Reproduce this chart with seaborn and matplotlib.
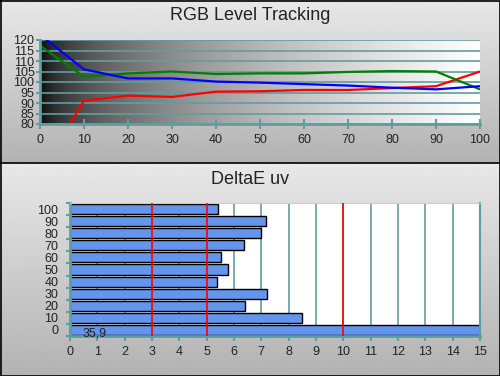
import numpy as np
import matplotlib
matplotlib.use("Agg")
import matplotlib.pyplot as plt
import seaborn as sns

# ---- data ----
levels = [0, 10, 20, 30, 40, 50, 60, 70, 80, 90, 100]
red_vals = [57, 91.1, 93.5, 92.9, 95.4, 95.6, 96.2, 96.2, 97.1, 98.0, 105.0]
green_vals = [117.3, 102.5, 104.1, 105.0, 103.8, 104.1, 104.1, 104.8, 105.2, 105.0, 96.5]
blue_vals = [122.5, 106.0, 101.7, 101.7, 100.2, 99.7, 99.0, 98.3, 97.3, 96.5, 98.0]

de_labels = ["100", "90", "80", "70", "60", "50", "40", "30", "20", "10", "0"]
de_values = [5.43, 7.16, 6.98, 6.35, 5.54, 5.77, 5.37, 7.2, 6.39, 8.48, 35.9]
ref_lines = [3, 5, 10]

W, H = 500, 376
TEAL = "#5f9ea0"
TXT = "#222222"
FS = 9

plt.rcParams['font.family'] = ['Liberation Sans', 'DejaVu Sans']

fig = plt.figure(figsize=(W / 100, H / 100), dpi=100)

def frac(x0, y0, x1, y1):
    return [x0 / W, 1 - y1 / H, (x1 - x0) / W, (y1 - y0) / H]

# background panels
bg = fig.add_axes([0, 0, 1, 1])
bg.set_xlim(0, W)
bg.set_ylim(H, 0)
bg.axis("off")
grad = np.linspace(0.91, 0.70, 256).reshape(-1, 1)
bg.imshow(grad, cmap="gray", vmin=0, vmax=1, extent=[0, W, 163, 0], aspect="auto")
bg.imshow(grad, cmap="gray", vmin=0, vmax=1, extent=[0, W, H, 163], aspect="auto")
bg.plot([0, W], [163, 163], color="black", lw=1.2)
bg.plot([0.5, W - 0.5, W - 0.5, 0.5, 0.5], [0.5, 0.5, H - 0.5, H - 0.5, 0.5], color="black", lw=1.2)

fig.text(0.5, 1 - 15 / H, "RGB Level Tracking", ha="center", va="center", fontsize=13, color=TXT)
fig.text(0.5, 1 - 179 / H, "DeltaE uv", ha="center", va="center", fontsize=13, color=TXT)

# ---- top: RGB tracking ----
ax1 = fig.add_axes(frac(40, 40, 480, 124))
xg = np.linspace(0, 1, 512).reshape(1, -1) ** 0.5
ax1.imshow(xg, cmap="gray", vmin=0, vmax=1, extent=[0, 100, 80, 120], aspect="auto", zorder=0)
sns.lineplot(x=levels, y=red_vals, color="#ff0000", lw=1.6, ax=ax1)
sns.lineplot(x=levels, y=green_vals, color="#008000", lw=1.6, ax=ax1)
sns.lineplot(x=levels, y=blue_vals, color="#0000ff", lw=1.6, ax=ax1)
ax1.set_xlim(0, 100)
ax1.set_ylim(80, 120)
ax1.set_xticks(levels)
ax1.set_yticks(range(80, 121, 5))
ax1.yaxis.grid(True, color=TEAL, lw=1.2)
for s in ["top", "right"]:
    ax1.spines[s].set_visible(False)
for s in ["left", "bottom"]:
    ax1.spines[s].set_color(TEAL)
    ax1.spines[s].set_linewidth(2)
ax1.tick_params(axis="x", direction="inout", length=7, width=1.5, color=TEAL,
                labelsize=FS, labelcolor=TXT, pad=4)
ax1.tick_params(axis="y", direction="out", length=3, width=1.5, color=TEAL,
                labelsize=FS, labelcolor=TXT, pad=1)
ax1.set_xlabel("")
ax1.set_ylabel("")

# ---- bottom: DeltaE uv ----
ax2 = fig.add_axes(frac(70, 203, 480, 336))
ax2.set_facecolor("white")
ax2.set_xlim(0, 15)
ax2.set_xticks(range(0, 16))
ax2.xaxis.grid(True, color=TEAL, lw=1.2)
ax2.set_axisbelow(True)
sns.barplot(x=de_values, y=de_labels, order=de_labels, orient="h", color="#6495ed",
            saturation=1, edgecolor="black", linewidth=1, width=0.83, ax=ax2)
ax2.set_xlim(0, 15)
ax2.set_ylim(10.5, -0.5)
for v in ref_lines:
    ax2.axvline(v, color="#ff0000", lw=1.2, zorder=5)
ax2.axvline(15, color=TEAL, lw=1.5, clip_on=False, zorder=1)
ax2.text(0.45, 10.28, "35,9", fontsize=FS, color=TXT, va="center", ha="left", zorder=6)
ax2.set_yticks(np.arange(-0.5, 11, 1), minor=True)
ax2.tick_params(axis="y", which="major", length=0, labelsize=FS, labelcolor=TXT, pad=8.5)
ax2.tick_params(axis="y", which="minor", direction="out", length=3, width=1.5, color=TEAL)
ax2.tick_params(axis="x", direction="inout", length=7, width=1.5, color=TEAL,
                labelsize=FS, labelcolor=TXT, pad=4)
ax2.spines["top"].set_color("#cccccc")
ax2.spines["right"].set_visible(False)
for s in ["left", "bottom"]:
    ax2.spines[s].set_color(TEAL)
    ax2.spines[s].set_linewidth(2)
ax2.set_xlabel("")
ax2.set_ylabel("")

fig.savefig("out.png", dpi=100)
